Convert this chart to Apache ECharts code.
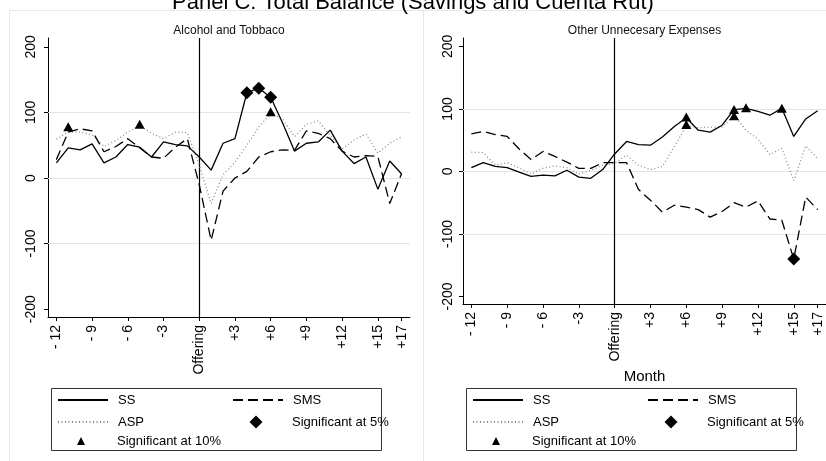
<!DOCTYPE html>
<html>
<head>
<meta charset="utf-8">
<script src="https://cdn.jsdelivr.net/npm/echarts@6/dist/echarts.min.js"></script>
<style>
  html, body { margin: 0; padding: 0; background: #fff; }
  #chart { width: 826px; height: 461px; }
</style>
</head>
<body>
<div id="chart"></div>
<script>
// Months relative to the offering (0)
const months = [-12, -11, -10, -9, -8, -7, -6, -5, -4, -3, -2, -1, 0,
                 1, 2, 3, 4, 5, 6, 7, 8, 9, 10, 11, 12, 13, 14, 15, 16, 17];
const tickValues = [-12, -9, -6, -3, 0, 3, 6, 9, 12, 15, 17];
const tickLabels = ['- 12', '- 9', '- 6', '-3', 'Offering', '+3', '+6', '+9', '+12', '+15', '+17'];
const yTicks = [-200, -100, 0, 100, 200];
const gridValues = [-100, 0, 100];
const panelTitles = ['Alcohol and Tobbaco', 'Other Unnecesary Expenses'];

// Alcohol and tobacco
const alcSS  = [23, 46, 43, 52, 23, 32, 51, 47, 32, 55, 51, 49, 32,
                12, 53, 60, 130, 137, 123, 84, 41, 53, 55, 73, 41, 22, 32, -17, 26, 6];
const alcSMS = [28, 70, 75, 72, 40, 48, 60, 46, 32, 30, 47, 60, -10,
                -95, -20, 0, 10, 32, 40, 43, 42, 72, 68, 60, 41, 32, 34, 33, -39, 7];
const alcASP = [59, 70, 70, 66, 48, 57, 70, 80, 68, 60, 70, 69, 20,
                -39, 5, 24, 50, 78, 98, 90, 63, 82, 87, 65, 44, 58, 67, 38, 53, 63];
const alcSig5  = [[4, 130], [5, 137], [6, 123]];
const alcSig10 = [[-11, 78], [-5, 82], [6, 101]];

// Other unnecessary expenses
const othSS  = [6, 14, 8, 6, -1, -8, -6, -7, 2, -9, -11, 3, 28,
                48, 43, 42, 55, 72, 86, 66, 63, 74, 99, 101, 96, 90, 101, 56, 84, 97];
const othSMS = [60, 64, 59, 56, 36, 19, 32, 24, 15, 5, 5, 14, 14,
                14, -29, -46, -65, -54, -57, -61, -73, -64, -50, -57, -47, -76, -78, -140, -41, -61];
const othASP = [31, 30, 10, 14, 6, -4, 5, 9, 6, -4, 2, 10, 13,
                26, 10, 3, 8, 40, 73, 70, 71, 71, 90, 66, 52, 27, 37, -15, 41, 21];
const othSig5  = [[15, -140]];
const othSig10 = [[6, 87], [6, 75], [10, 99], [10, 89], [11, 102], [14, 101]];

const FONT = "'Liberation Sans', Arial, Helvetica, sans-serif";
const panels = [
  { ss: alcSS, sms: alcSMS, asp: alcASP, sig5: alcSig5, sig10: alcSig10,
    grid: { left: 48, top: 38, width: 362, height: 279 }, yMargin: 10, xName: '' },
  { ss: othSS, sms: othSMS, asp: othASP, sig5: othSig5, sig10: othSig10,
    grid: { left: 463, top: 38, width: 363, height: 266 }, yMargin: 8, xName: 'Month' }
];

const pair = arr => months.map((m, i) => [m, arr[i]]);

const grids = [], xAxes = [], yAxes = [], series = [], graphics = [];

panels.forEach((p, k) => {
  grids.push(Object.assign({ containLabel: false }, p.grid));
  xAxes.push({
    gridIndex: k, type: 'value', min: -12.7, max: 17.7,
    name: p.xName, nameLocation: 'middle', nameGap: 61,
    nameTextStyle: { fontFamily: FONT, fontSize: 15, color: '#000' },
    axisLine: { show: true, onZero: false, lineStyle: { color: '#000', width: 1 } },
    axisTick: { show: true, customValues: tickValues, length: 4, lineStyle: { color: '#000' } },
    axisLabel: {
      customValues: tickValues, rotate: 90, margin: 8,
      fontFamily: FONT, fontSize: 14, color: '#000',
      formatter: v => tickLabels[tickValues.indexOf(v)] ?? ''
    },
    splitLine: { show: false }
  });
  yAxes.push({
    gridIndex: k, type: 'value', min: -212, max: 213.5,
    axisLine: { show: true, onZero: false, lineStyle: { color: '#000', width: 1 } },
    axisTick: { show: true, customValues: yTicks, length: 4, lineStyle: { color: '#000' } },
    axisLabel: {
      customValues: yTicks, rotate: 90, margin: p.yMargin,
      fontFamily: FONT, fontSize: 14, color: '#000'
    },
    splitLine: { show: false }
  });

  series.push({
    name: 'ASP', type: 'line', xAxisIndex: k, yAxisIndex: k,
    data: pair(p.asp), symbol: 'none', showSymbol: false,
    lineStyle: { color: '#8a8a8a', width: 1.3, type: [1, 2.5] },
    itemStyle: { color: '#8a8a8a' },
    z: 2,
    markLine: {
      silent: true, symbol: 'none', z: 1, label: { show: false },
      lineStyle: { color: '#e4e4e4', width: 1, type: 'solid' },
      data: gridValues.map(v => ({ yAxis: v }))
    }
  });
  series.push({
    name: 'SMS', type: 'line', xAxisIndex: k, yAxisIndex: k,
    data: pair(p.sms), symbol: 'none', showSymbol: false,
    lineStyle: { color: '#000', width: 1.3, type: [10, 5] },
    itemStyle: { color: '#000' },
    z: 3
  });
  series.push({
    name: 'SS', type: 'line', xAxisIndex: k, yAxisIndex: k,
    data: pair(p.ss), symbol: 'none', showSymbol: false,
    lineStyle: { color: '#000', width: 1.3, type: 'solid' },
    itemStyle: { color: '#000' },
    z: 3,
    markLine: {
      silent: true, symbol: 'none', z: 2, label: { show: false },
      lineStyle: { color: '#000', width: 1.2, type: 'solid' },
      data: [{ xAxis: 0 }]
    }
  });
  series.push({
    name: 'Significant at 5%', type: 'scatter', xAxisIndex: k, yAxisIndex: k,
    data: p.sig5, symbol: 'diamond', symbolSize: 13,
    itemStyle: { color: '#000', opacity: 1 }, z: 6
  });
  series.push({
    name: 'Significant at 10%', type: 'scatter', xAxisIndex: k, yAxisIndex: k,
    data: p.sig10, symbol: 'triangle', symbolSize: [10, 9],
    itemStyle: { color: '#000', opacity: 1 }, z: 6
  });
});

// Legend entries: one legend component per entry so each sits in its own slot
const legendSlots = [
  { name: 'SS',                 iconLeft: 57,    w: 50, h: 14, textX: 117, y: 400, line: true },
  { name: 'SMS',                iconLeft: 232,   w: 50, h: 14, textX: 292, y: 400, line: true },
  { name: 'ASP',                iconLeft: 57,    w: 50, h: 14, textX: 117, y: 422, line: true },
  { name: 'Significant at 5%',  iconLeft: 249.5, w: 13, h: 13, textX: 292, y: 422, line: false },
  { name: 'Significant at 10%', iconLeft: 77,    w: 8,  h: 8,  textX: 117, y: 441, line: false }
];
const legendOffsets = [0, 415];
const legends = [];
legendOffsets.forEach(dx => {
  legendSlots.forEach(s => {
    const lg = {
      left: s.iconLeft + dx,
      top: s.y - Math.max(s.h, 14) / 2,
      padding: 0,
      itemWidth: s.w, itemHeight: s.h,
      selectedMode: false,
      data: [s.name],
      textStyle: {
        fontFamily: FONT, fontSize: 13, color: '#000', lineHeight: 14,
        padding: [0, 0, 0, s.textX - s.iconLeft - s.w - 5]
      }
    };
    // line entries show only the line sample, no point marker
    if (s.line) lg.itemStyle = { opacity: 0 };
    legends.push(lg);
  });
  graphics.push({
    type: 'rect', silent: true,
    shape: { x: 51.5 + dx, y: 388.5, width: 330, height: 62 },
    style: { fill: 'none', stroke: '#333', lineWidth: 1 }
  });
});

// Panel outlines and panel headings
graphics.push(
  { type: 'line', silent: true, shape: { x1: 9.5, y1: 10.5, x2: 826, y2: 10.5 },
    style: { stroke: '#e8e8e8', lineWidth: 1 } },
  { type: 'line', silent: true, shape: { x1: 9.5, y1: 10.5, x2: 9.5, y2: 461 },
    style: { stroke: '#e8e8e8', lineWidth: 1 } },
  { type: 'line', silent: true, shape: { x1: 423.5, y1: 10.5, x2: 423.5, y2: 461 },
    style: { stroke: '#e8e8e8', lineWidth: 1 } }
);
panels.forEach((p, k) => {
  graphics.push({
    type: 'text', silent: true,
    x: p.grid.left + p.grid.width / 2, y: 31,
    style: {
      text: panelTitles[k], align: 'center', verticalAlign: 'middle',
      fontFamily: "'Liberation Sans Narrow', 'Liberation Sans', Arial, sans-serif",
      fontSize: 12, fill: '#111'
    }
  });
});

const chart = echarts.init(document.getElementById('chart'), null, { renderer: 'canvas' });
chart.setOption({
  animation: false,
  backgroundColor: '#fff',
  title: {
    text: 'Panel C: Total Balance (Savings and Cuenta Rut)',
    left: 'center', top: -8, padding: 0,
    textStyle: { fontFamily: FONT, fontSize: 22, fontWeight: 'normal', color: '#000' }
  },
  grid: grids,
  xAxis: xAxes,
  yAxis: yAxes,
  legend: legends,
  series: series,
  graphic: graphics
});
</script>
</body>
</html>
